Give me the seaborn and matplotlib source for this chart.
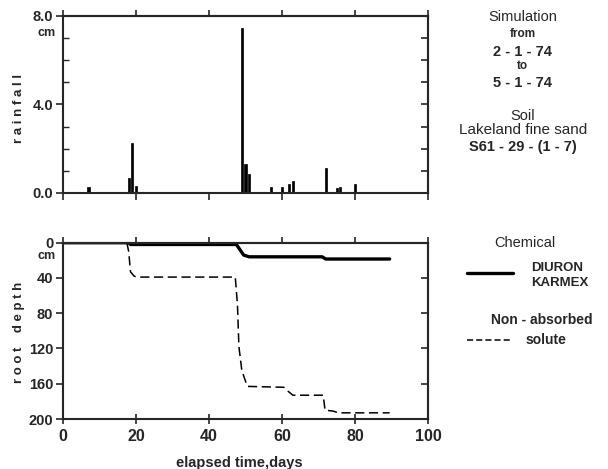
import numpy as np
import pandas as pd
import matplotlib
matplotlib.use("Agg")
import matplotlib.pyplot as plt
from matplotlib.lines import Line2D
import seaborn as sns

# rainfall events (day, cm)
rain_days = [7, 18, 19, 20, 49, 50, 51, 57, 60, 62, 63, 72, 75, 76, 80]
rain_cm = [0.27, 0.70, 2.28, 0.30, 7.44, 1.33, 0.85, 0.27, 0.27, 0.40, 0.53, 1.13, 0.23, 0.29, 0.40]

# DIURON / KARMEX front depth
diuron_days = [0, 18, 18.5, 47.5, 48.5, 49.5, 51, 71, 72, 89.5]
diuron_cm = [0, 0, 2, 2, 8, 14, 16, 16, 18.5, 18.5]

# non-absorbed solute front depth
solute_days = [17.5, 18, 18.5, 19.5, 20.5, 47.2, 47.8, 48.2, 49, 50.5, 60.5, 61.5, 63,
               71.3, 71.8, 74, 75.5, 89.5]
solute_cm = [0, 10, 33, 38, 39, 39, 70, 118, 145, 163, 164, 168, 173, 173, 190, 191, 193, 193]

sns.set_style("ticks")
plt.rcParams['font.family'] = ['Liberation Sans', 'DejaVu Sans']
plt.rcParams['font.weight'] = 'bold'

fig = plt.figure(figsize=(6.08, 4.69), dpi=100)
ax1 = fig.add_axes([0.1036, 0.5885, 0.6003, 0.3774])
ax2 = fig.add_axes([0.1036, 0.1066, 0.6003, 0.3759])

spine_lw = 1.5
tick_font = dict(fontsize=10.5, fontweight='bold')

# ---- rainfall panel
ax1.bar(rain_days, rain_cm, width=0.6, color='black', edgecolor='black',
        linewidth=0.5, align='center')
ax1.set_xlim(0, 100)
ax1.set_ylim(0, 8)
ax1.set_yticks([0, 4, 8])
ax1.set_yticklabels(['0.0', '4.0', '8.0'], **tick_font)
ax1.set_xticks([0, 20, 40, 60, 80, 100])
ax1.set_xticklabels([])
ax1.tick_params(axis='x', direction='out', length=5, width=1.2)
ax1.tick_params(axis='y', direction='out', length=5, width=1.2, pad=2)
ax1.set_yticks(np.arange(0, 9, 1), minor=True)
ax1.tick_params(axis='y', which='minor', direction='in', length=4, width=1)
sec = ax1.secondary_yaxis('right')
sec.set_yticks(np.arange(0, 9, 1))
sec.set_yticklabels([])
sec.tick_params(direction='in', length=5, width=1.2)
sec.spines['right'].set_linewidth(spine_lw)
secx = ax1.secondary_xaxis('top')
secx.set_xticks([0, 20, 40, 60, 80, 100])
secx.set_xticklabels([])
secx.tick_params(direction='out', length=4, width=1.2)
secx.spines['top'].set_linewidth(spine_lw)

# ---- root depth panel
sns.lineplot(x=diuron_days, y=diuron_cm, ax=ax2, color='black', lw=2.4,
             estimator=None, sort=False)
sns.lineplot(x=solute_days, y=solute_cm, ax=ax2, color='black', lw=1.1,
             estimator=None, sort=False, dashes=False)
ax2.lines[-1].set_linestyle((0, (6, 3)))
ax2.set_xlim(0, 100)
ax2.set_ylim(200, 0)
ax2.set_yticks([0, 40, 80, 120, 160, 200])
ax2.set_yticklabels(['0', '40', '80', '120', '160', '200'], **tick_font)
ax2.set_xticks([0, 20, 40, 60, 80, 100])
ax2.set_xticklabels(['0', '20', '40', '60', '80', '100'], fontsize=11.5, fontweight='bold')
ax2.tick_params(axis='x', direction='inout', length=7, width=1.2)
ax2.tick_params(axis='y', direction='out', length=5, width=1.2, pad=2)
sec2 = ax2.secondary_yaxis('right')
sec2.set_yticks([0, 40, 80, 120, 160, 200])
sec2.set_yticklabels([])
sec2.tick_params(direction='in', length=5, width=1.2)
sec2.spines['right'].set_linewidth(spine_lw)
secx2 = ax2.secondary_xaxis('top')
secx2.set_xticks([0, 20, 40, 60, 80, 100])
secx2.set_xticklabels([])
secx2.tick_params(direction='out', length=4, width=1.2)
secx2.spines['top'].set_linewidth(spine_lw)
ax2.set_xlabel('')
ax2.set_ylabel('')

for ax in (ax1, ax2):
    for s in ax.spines.values():
        s.set_linewidth(spine_lw)
        s.set_visible(True)

# axis labels
fig.text(0.031, 0.7697, 'r a i n f a l l', rotation=90, ha='center', va='center',
         fontsize=9.5, fontweight='bold')
fig.text(0.031, 0.292, 'r o o t    d e p t h', rotation=90, ha='center', va='center',
         fontsize=9.5, fontweight='bold')
fig.text(0.393, 0.0128, 'elapsed time,days', ha='center', va='center',
         fontsize=10.5, fontweight='bold')
fig.text(0.077, 0.9296, 'cm', ha='center', va='center', fontsize=9, fontweight='bold')
fig.text(0.077, 0.4542, 'cm', ha='center', va='center', fontsize=9, fontweight='bold')

# right-hand notes
cx = 0.860
fig.text(cx, 0.964, 'Simulation', ha='center', va='center', fontsize=10.5, fontweight='normal')
fig.text(cx, 0.9275, 'from', ha='center', va='center', fontsize=8.5, fontweight='bold')
fig.text(cx, 0.889, '2 - 1 - 74', ha='center', va='center', fontsize=10.5, fontweight='bold')
fig.text(cx, 0.859, 'to', ha='center', va='center', fontsize=8.5, fontweight='bold')
fig.text(cx, 0.823, '5 - 1 - 74', ha='center', va='center', fontsize=10.5, fontweight='bold')
fig.text(cx, 0.7527, 'Soil', ha='center', va='center', fontsize=10.5, fontweight='normal')
fig.text(cx, 0.7228, 'Lakeland fine sand', ha='center', va='center', fontsize=11,
         fontweight='normal')
fig.text(cx, 0.6866, 'S61 - 29 - (1 - 7)', ha='center', va='center', fontsize=10.5,
         fontweight='bold')

fig.text(0.864, 0.4819, 'Chemical', ha='center', va='center', fontsize=10.5, fontweight='normal')
fig.add_artist(Line2D([0.768, 0.844], [0.4186, 0.4186], color='black', lw=2.4,
                      transform=fig.transFigure))
fig.text(0.8734, 0.4286, 'DIURON', ha='left', va='center', fontsize=9.5, fontweight='bold')
fig.text(0.8734, 0.3966, 'KARMEX', ha='left', va='center', fontsize=9.5, fontweight='bold')
fig.text(0.891, 0.3177, 'Non - absorbed', ha='center', va='center', fontsize=10,
         fontweight='bold')
fig.add_artist(Line2D([0.768, 0.842], [0.275, 0.275], color='black', lw=1.1,
                      linestyle=(0, (4, 2)), transform=fig.transFigure))
fig.text(0.8646, 0.275, 'solute', ha='left', va='center', fontsize=10, fontweight='bold')

fig.savefig('out.png', dpi=100)
